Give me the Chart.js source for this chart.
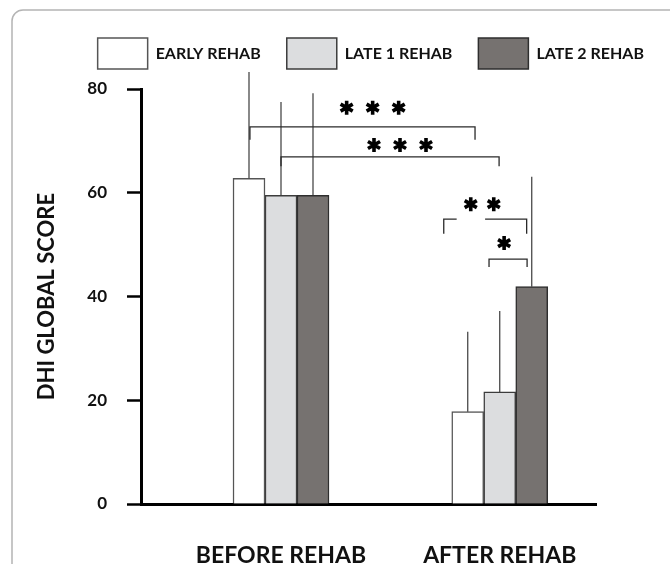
<!DOCTYPE html>
<html>
<head>
<meta charset="utf-8">
<script src="https://cdn.jsdelivr.net/npm/chart.js@4.4.1/dist/chart.umd.min.js"></script>
<style>
  html, body { margin: 0; padding: 0; background: #fff; }
</style>
</head>
<body>
<canvas id="dhiChart" width="670" height="564"></canvas>
<script>
// groups and series
const groupLabels = ['BEFORE REHAB', 'AFTER REHAB'];
const groupPositions = [0, 1];
const seriesNames = ['EARLY REHAB', 'LATE 1 REHAB', 'LATE 2 REHAB'];

// mean DHI score per group
const earlyMeans = [62.8, 17.8];
const late1Means = [59.5, 21.6];
const late2Means = [59.5, 41.9];

// top of the (one-sided) error bars
const earlyUpper = [83.3, 33.2];
const late1Upper = [77.5, 37.2];
const late2Upper = [79.2, 63.1];

// significance brackets (x in group units, y in score units)
const bracketFrom = [-0.142, 0.0, 0.744, 0.951];
const bracketTo = [0.887, 0.997, 1.123, 1.125];
const bracketLevel = [72.7, 66.9, 54.9, 47.2];
const bracketDrop = [2.5, 1.8, 2.8, 1.5];
const bracketGap = [null, null, [0.803, 0.933], null];
const bracketStars = [3, 3, 2, 1];
const starCenter = [0.419, 0.544, 0.920, 1.020];
const starLevel = [76.4, 69.2, 57.8, 50.3];
const starSpacing = [26, 26, 23, 0];

const FONT = 'Lato, "Open Sans", sans-serif';

function toPoints(values) {
    return values.map((v, i) => ({ x: groupPositions[i], y: v }));
}

// grey frame round the figure
const framePlugin = {
    id: 'frame',
    beforeDraw(chart) {
        const ctx = chart.ctx;
        ctx.save();
        ctx.strokeStyle = '#b4b4b4';
        ctx.lineWidth = 1.5;
        ctx.beginPath();
        ctx.moveTo(12, chart.height);
        ctx.lineTo(12, 22);
        ctx.arcTo(12, 10, 24, 10, 11);
        ctx.lineTo(chart.width, 10);
        ctx.stroke();
        ctx.restore();
    }
};

// extra room under the legend
const legendSpacer = {
    id: 'legendSpacer',
    beforeInit(chart) {
        const fit = chart.legend.fit;
        chart.legend.fit = function () {
            fit.bind(chart.legend)();
            this.height += 10;
        };
    }
};

const errorBars = {
    id: 'errorBars',
    afterDatasetsDraw(chart) {
        const ctx = chart.ctx;
        const y = chart.scales.y;
        const uppers = [earlyUpper, late1Upper, late2Upper];
        ctx.save();
        ctx.strokeStyle = '#3a3a3a';
        ctx.lineWidth = 1.2;
        chart.data.datasets.forEach((ds, di) => {
            chart.getDatasetMeta(di).data.forEach((bar, i) => {
                ctx.beginPath();
                ctx.moveTo(bar.x, bar.y);
                ctx.lineTo(bar.x, y.getPixelForValue(uppers[di][i]));
                ctx.stroke();
            });
        });
        ctx.restore();
    }
};

function drawStar(ctx, cx, cy, r) {
    ctx.beginPath();
    for (let k = 0; k < 3; k++) {
        const a = Math.PI / 2 + k * Math.PI / 3;
        ctx.moveTo(cx + r * Math.cos(a), cy + r * Math.sin(a));
        ctx.lineTo(cx - r * Math.cos(a), cy - r * Math.sin(a));
    }
    ctx.stroke();
}

const significance = {
    id: 'significance',
    afterDraw(chart) {
        const ctx = chart.ctx;
        const xs = chart.scales.x;
        const ys = chart.scales.y;
        ctx.save();
        bracketFrom.forEach((from, i) => {
            const x1 = xs.getPixelForValue(from);
            const x2 = xs.getPixelForValue(bracketTo[i]);
            const yl = ys.getPixelForValue(bracketLevel[i]);
            const yd = ys.getPixelForValue(bracketLevel[i] - bracketDrop[i]);
            ctx.strokeStyle = '#2a2a2a';
            ctx.lineWidth = 1.3;
            ctx.beginPath();
            ctx.moveTo(x1, yd);
            ctx.lineTo(x1, yl);
            if (bracketGap[i]) {
                ctx.lineTo(xs.getPixelForValue(bracketGap[i][0]), yl);
                ctx.moveTo(xs.getPixelForValue(bracketGap[i][1]), yl);
            }
            ctx.lineTo(x2, yl);
            ctx.lineTo(x2, yd);
            ctx.stroke();

            // stars
            ctx.strokeStyle = '#000';
            ctx.lineWidth = 3.6;
            const n = bracketStars[i];
            const cx = xs.getPixelForValue(starCenter[i]);
            const cy = ys.getPixelForValue(starLevel[i]);
            for (let s = 0; s < n; s++) {
                drawStar(ctx, cx + (s - (n - 1) / 2) * starSpacing[i], cy, 7);
            }
        });
        ctx.restore();
    }
};

new Chart(document.getElementById('dhiChart'), {
    type: 'bar',
    data: {
        datasets: [
            {
                label: seriesNames[0],
                data: toPoints(earlyMeans),
                backgroundColor: '#ffffff',
                borderColor: '#555555',
                borderWidth: 1.5
            },
            {
                label: seriesNames[1],
                data: toPoints(late1Means),
                backgroundColor: '#dcdddf',
                borderColor: '#3c3c3c',
                borderWidth: 1.5
            },
            {
                label: seriesNames[2],
                data: toPoints(late2Means),
                backgroundColor: '#767270',
                borderColor: '#2e2e2e',
                borderWidth: 1.5
            }
        ]
    },
    options: {
        responsive: false,
        animation: false,
        layout: { padding: { top: 12, left: 0, right: 0, bottom: 0 } },
        datasets: { bar: { barThickness: 32 } },
        scales: {
            x: {
                type: 'linear',
                min: -0.64,
                max: 1.44,
                offset: false,
                bounds: 'data',
                grid: { display: false, drawTicks: false, offset: false },
                border: { display: true, color: '#000', width: 3 },
                afterBuildTicks: s => { s.ticks = groupPositions.map(v => ({ value: v })); },
                afterFit: s => { s.height = 60; },
                ticks: {
                    autoSkip: false,
                    maxRotation: 0,
                    padding: 38,
                    color: '#111',
                    font: { family: FONT, size: 23, weight: 'bold' },
                    callback: v => groupLabels[groupPositions.indexOf(v)] ?? ''
                }
            },
            y: {
                min: 0,
                max: 80,
                grid: { drawOnChartArea: false, drawTicks: true, tickLength: 14, tickWidth: 2.5, tickColor: '#000' },
                border: { display: true, color: '#000', width: 3 },
                afterFit: s => { s.width = 141; },
                ticks: {
                    stepSize: 20,
                    padding: 20,
                    color: '#111',
                    font: { family: FONT, size: 17, weight: 'bold' }
                },
                title: {
                    display: true,
                    text: 'DHI GLOBAL SCORE',
                    color: '#111',
                    padding: { top: 34, bottom: 0 },
                    font: { family: FONT, size: 22, weight: 'bold' }
                }
            },
            spacer: {
                type: 'linear',
                position: 'right',
                display: true,
                grid: { display: false },
                border: { display: false },
                ticks: { display: false },
                afterFit: s => { s.width = 74; }
            }
        },
        plugins: {
            legend: {
                position: 'top',
                align: 'end',
                labels: {
                    boxWidth: 50,
                    boxHeight: 31,
                    padding: 26,
                    color: '#111',
                    font: { family: FONT, size: 16, weight: 'bold' }
                }
            },
            tooltip: { enabled: false }
        }
    },
    plugins: [framePlugin, legendSpacer, errorBars, significance]
});
</script>
</body>
</html>
